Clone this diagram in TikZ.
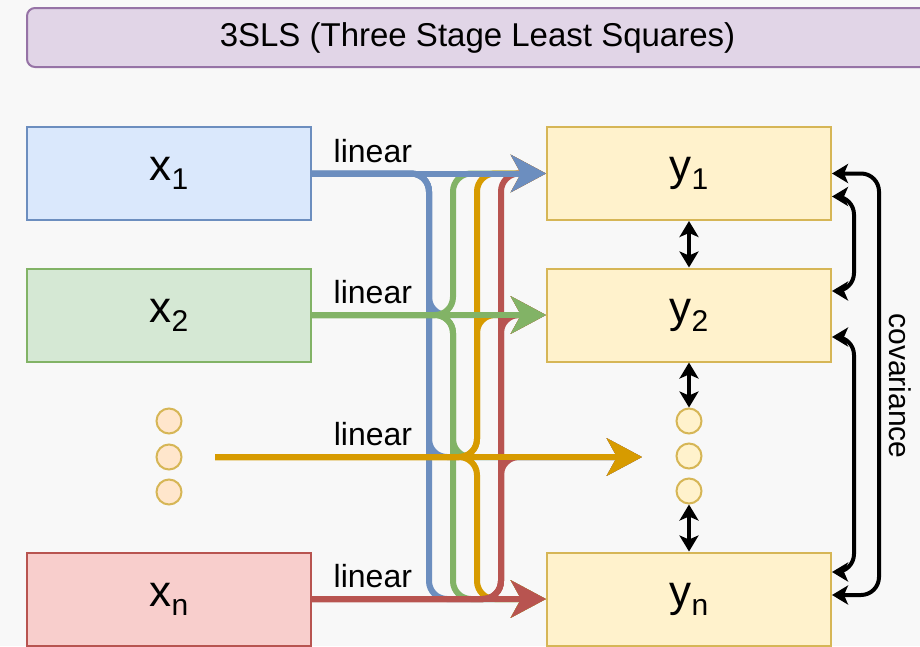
\documentclass[tikz,border=0pt]{standalone}
\usepackage{fontspec}
\setmainfont{Liberation Sans}
\usetikzlibrary{arrows.meta}
\definecolor{bgcol}{RGB}{248,248,248}
\definecolor{bluefill}{HTML}{DAE8FC}
\definecolor{bluestroke}{HTML}{6C8EBF}
\definecolor{greenfill}{HTML}{D5E8D4}
\definecolor{greenstroke}{HTML}{82B366}
\definecolor{redfill}{HTML}{F8CECC}
\definecolor{redstroke}{HTML}{B85450}
\definecolor{yellowfill}{HTML}{FFF2CC}
\definecolor{yellowstroke}{HTML}{D6B656}
\definecolor{peachfill}{HTML}{FFE6CC}
\definecolor{orangestroke}{HTML}{D79B00}
\definecolor{purplefill}{HTML}{E1D5E7}
\definecolor{purplestroke}{HTML}{9673A6}
\tikzset{
    blue line/.style={color=bluestroke},
    green line/.style={color=greenstroke},
    orange line/.style={color=orangestroke},
    red line/.style={color=redstroke},
    var box/.style={draw,line width=2pt,minimum width=284pt,minimum height=93pt,inner sep=0pt,font=\fontsize{44}{44}\selectfont},
    x one/.style={var box,fill=bluefill,draw=bluestroke},
    x two/.style={var box,fill=greenfill,draw=greenstroke},
    x last/.style={var box,fill=redfill,draw=redstroke},
    y box/.style={var box,fill=yellowfill,draw=yellowstroke},
    title box/.style={draw=purplestroke,fill=purplefill,line width=2pt,rounded corners=8pt,minimum width=901pt,minimum height=59pt,font=\fontsize{33}{33}\selectfont},
    dot/.style={circle,draw,line width=2pt,minimum size=25pt,inner sep=0pt},
    in dot/.style={dot,fill=peachfill,draw=yellowstroke},
    out dot/.style={dot,fill=yellowfill,draw=yellowstroke},
    flow/.style={line width=6pt,rounded corners=18pt,-{Stealth[length=35pt,width=37pt,inset=10pt]}},
    cov/.style={line width=4pt,rounded corners=18pt,{Stealth[length=16pt,width=19pt,inset=4pt]}-{Stealth[length=16pt,width=19pt,inset=4pt]}},
    lbl/.style={above,inner sep=8pt},
}
\tikzstyle{every node}=[font=\fontsize{32}{32}\selectfont]
\newcommand{\idx}[1]{\raisebox{-9pt}{\fontsize{30}{30}\selectfont #1}}

\begin{document}
\begin{tikzpicture}[x=1pt,y=-1pt]
    \fill[bgcol] (0,0) rectangle (920,646);
    \useasboundingbox (0,0) rectangle (920,646);

    \node[title box] (title) at (477.5,37.5) {3SLS (Three Stage Least Squares)};

    % inputs and outputs
    \node[x one] (x1) at (169,173.5) {x\idx{1}};
    \node[x two] (x2) at (169,315) {x\idx{2}};
    \node[x last] (xn) at (169,599) {x\idx{n}};
    \node[y box] (y1) at (689,173.5) {y\idx{1}};
    \node[y box] (y2) at (689,315) {y\idx{2}};
    \node[y box] (yn) at (689,599) {y\idx{n}};

    \node[in dot] (xdot1) at (169,421) {};
    \node[in dot] (xdot2) at (169,457) {};
    \node[in dot] (xdot3) at (169,492) {};
    \node[out dot] (ydot1) at (689,421) {};
    \node[out dot] (ydot2) at (689,456) {};
    \node[out dot] (ydot3) at (689,491) {};
    \coordinate (xd) at (215,457);
    \coordinate (yd) at (642,457);

    % vertical lanes of the cross links
    \coordinate (lane1) at (429,0);
    \coordinate (lane2) at (453,0);
    \coordinate (lane3) at (477,0);
    \coordinate (lane4) at (501,0);

    \draw[flow,blue line] (x1.east) -- (x1.east -| lane1) -- (lane1 |- y2.west) -- (y2.west);
    \draw[flow,blue line] (x1.east) -- (x1.east -| lane1) -- (lane1 |- yd) -- (yd);
    \draw[flow,blue line] (x1.east) -- (x1.east -| lane1) -- (lane1 |- yn.west) -- (yn.west);
    \draw[flow,green line] (x2.east) -- (x2.east -| lane2) -- (lane2 |- y1.west) -- (y1.west);
    \draw[flow,green line] (x2.east) -- (x2.east -| lane2) -- (lane2 |- yd) -- (yd);
    \draw[flow,green line] (x2.east) -- (x2.east -| lane2) -- (lane2 |- yn.west) -- (yn.west);
    \draw[flow,orange line] (xd) -- (xd -| lane3) -- (lane3 |- y1.west) -- (y1.west);
    \draw[flow,orange line] (xd) -- (xd -| lane3) -- (lane3 |- y2.west) -- (y2.west);
    \draw[flow,orange line] (xd) -- (xd -| lane3) -- (lane3 |- yn.west) -- (yn.west);
    \draw[flow,red line] (xn.east) -- (xn.east -| lane4) -- (lane4 |- y1.west) -- (y1.west);
    \draw[flow,red line] (xn.east) -- (xn.east -| lane4) -- (lane4 |- y2.west) -- (y2.west);
    \draw[flow,red line] (xn.east) -- (xn.east -| lane4) -- (lane4 |- yd) -- (yd);

    \draw[flow,blue line] (x1.east) -- node[lbl,pos=.26,black] {linear} (y1.west);
    \draw[flow,green line] (x2.east) -- node[lbl,pos=.26,black] {linear} (y2.west);
    \draw[flow,orange line] (xd) -- node[lbl,pos=.37,black] {linear} (yd);
    \draw[flow,red line] (xn.east) -- node[lbl,pos=.26,black] {linear} (yn.west);

    % covariance between the outputs
    \draw[cov] (y1.east) -- ++(47,0) |- ([yshift=4pt]yn.east);
    \draw[cov] ([yshift=-23pt]y1.east) -- ++(22,0) |- ([yshift=24pt]y2.east);
    \draw[cov] ([yshift=-22pt]y2.east) -- ++(22,0) |- ([yshift=27pt]yn.east);
    \node[rotate=-90,font=\fontsize{30}{30}\selectfont] (covlabel) at (900,386) {covariance};

    \draw[cov] (y1.south) -- (y2.north);
    \draw[cov] (y2.south) -- (ydot1.north);
    \draw[cov] (ydot3.south) -- (yn.north);
\end{tikzpicture}
\end{document}
